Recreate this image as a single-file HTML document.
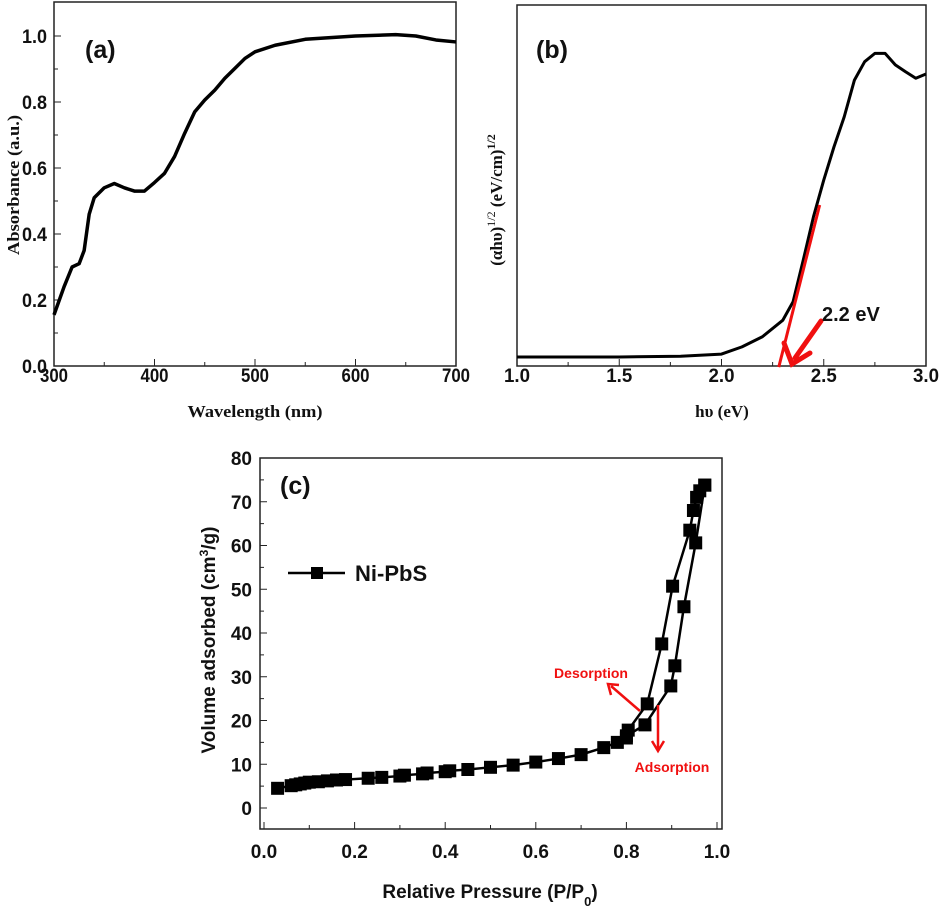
<!DOCTYPE html>
<html><head><meta charset="utf-8">
<style>
html,body{margin:0;padding:0;background:#fff;}
svg{display:block;}
.tk{font-family:"Liberation Sans",sans-serif;font-weight:bold;font-size:19px;fill:#111;}
.tkc{font-family:"Liberation Sans",sans-serif;font-weight:bold;font-size:19px;fill:#111;}
.ser{font-family:"Liberation Serif",serif;font-weight:bold;font-size:17px;fill:#111;}
.pl{font-family:"Liberation Sans",sans-serif;font-weight:bold;font-size:25px;fill:#111;}
</style></head><body>
<svg id="fig" width="941" height="908" viewBox="0 0 941 908" xmlns="http://www.w3.org/2000/svg">
<g id="ga"></g>
<g id="gb"></g>
<g id="gc"></g>
</svg>
<script>
// Panel (a) data
const aWavelength=[300,310,318,325,330,335,340,350,360,370,380,390,400,410,420,430,440,450,460,470,480,490,500,520,550,600,640,660,680,700];
const aAbsorbance=[0.155,0.24,0.30,0.31,0.35,0.46,0.51,0.54,0.553,0.54,0.53,0.53,0.556,0.584,0.635,0.705,0.77,0.806,0.836,0.872,0.902,0.932,0.952,0.972,0.99,1.0,1.004,1.0,0.988,0.982];
const aXTicks=[300,400,500,600,700];
const aYTicks=[0.0,0.2,0.4,0.6,0.8,1.0];
// Panel (b) data
const bEnergy=[1.0,1.5,1.8,2.0,2.1,2.2,2.3,2.35,2.4,2.45,2.5,2.55,2.6,2.65,2.7,2.75,2.8,2.85,2.9,2.95,3.0];
const bSignal=[0.025,0.025,0.027,0.033,0.053,0.081,0.127,0.178,0.294,0.414,0.515,0.607,0.69,0.792,0.843,0.866,0.866,0.834,0.815,0.797,0.809];
const bXTicks=[1.0,1.5,2.0,2.5,3.0];
const bFitX=[2.28,2.48];
const bFitY=[-0.003,0.446];
// Panel (c) data
const cAdsP=[0.03,0.06,0.07,0.08,0.09,0.10,0.12,0.14,0.16,0.18,0.23,0.26,0.30,0.31,0.35,0.36,0.40,0.41,0.45,0.50,0.55,0.60,0.65,0.70,0.75,0.78,0.80,0.841,0.898,0.907,0.927,0.953,0.973];
const cAdsV=[4.5,5.1,5.3,5.5,5.7,5.9,6.0,6.2,6.4,6.5,6.8,7.0,7.3,7.5,7.8,8.0,8.3,8.5,8.8,9.3,9.8,10.5,11.3,12.2,13.8,15.0,16.5,19.0,27.9,32.5,46.0,60.6,73.8];
const cDesP=[0.973,0.962,0.955,0.948,0.94,0.902,0.878,0.846,0.804,0.80];
const cDesV=[73.8,72.5,71.0,68.0,63.5,50.7,37.5,23.8,17.8,16.0];
const cXTicks=[0.0,0.2,0.4,0.6,0.8,1.0];
const cYTicks=[0,10,20,30,40,50,60,70,80];

const NS="http://www.w3.org/2000/svg";
function mk(parent,tag,attrs,text){const e=document.createElementNS(NS,tag);for(const k in attrs)e.setAttribute(k,attrs[k]);if(text!==undefined)e.textContent=text;parent.appendChild(e);return e;}
function lin(d0,d1,r0,r1){return v=>r0+(v-d0)*(r1-r0)/(d1-d0);}

// ---------- Panel A ----------
(function(){
const g=document.getElementById('ga');
const L=54,R=456,T=2,B=366;
const x=lin(300,700,L,R), y=lin(0,1,B,36);
let e=mk(g,'rect',{x:L,y:T,width:R-L,height:B-T,fill:'none',stroke:'#222','stroke-width':1.5});

for(let v=300;v<=700;v+=50){mk(g,'line',{x1:x(v),x2:x(v),y1:B,y2:B-(v%100?4:7),stroke:'#222','stroke-width':1});}
for(let v=0;v<=1.05;v+=0.1){mk(g,'line',{x1:L,x2:L+(Math.round(v*10)%2?4:7),y1:y(v),y2:y(v),stroke:'#222','stroke-width':1});}
aXTicks.forEach(v=>{const t=mk(g,'text',{x:x(v),y:382,'text-anchor':'middle',class:'tk',textLength:28,lengthAdjust:'spacingAndGlyphs'},String(v));
});
aYTicks.forEach(v=>{const t=mk(g,'text',{x:47,y:y(v)+7,'text-anchor':'end',class:'tk',textLength:25,lengthAdjust:'spacingAndGlyphs'},v.toFixed(1));
});
const p=mk(g,'path',{d:aWavelength.map((v,i)=>(i?'L':'M')+x(v)+','+y(aAbsorbance[i])).join(''),fill:'none',stroke:'#000','stroke-width':3.5,'stroke-linejoin':'round'});

let t=mk(g,'text',{x:255,y:417,'text-anchor':'middle',class:'ser',textLength:135,lengthAdjust:'spacingAndGlyphs'},'Wavelength (nm)');

t=mk(g,'text',{x:0,y:0,'text-anchor':'middle',class:'ser',transform:'translate(19,185) rotate(-90)',textLength:140,lengthAdjust:'spacingAndGlyphs'},'Absorbance (a.u.)');

t=mk(g,'text',{x:85,y:58,class:'pl'},'(a)');

})();

// ---------- Panel B ----------
(function(){
const g=document.getElementById('gb');
const L=517,R=926,T=5,B=366;
const x=lin(1,3,L,R), y=lin(0,1,B,5);
let e=mk(g,'rect',{x:L,y:T,width:R-L,height:B-T,fill:'none',stroke:'#222','stroke-width':1.5});

for(let v=1;v<=3.001;v+=0.25){mk(g,'line',{x1:x(v),x2:x(v),y1:B,y2:B-(Math.abs(v*2-Math.round(v*2))<0.01?7:4),stroke:'#222','stroke-width':1});}
bXTicks.forEach(v=>{const t=mk(g,'text',{x:x(v),y:382,'text-anchor':'middle',class:'tk',textLength:26,lengthAdjust:'spacingAndGlyphs'},v.toFixed(1));
});
const p=mk(g,'path',{d:bEnergy.map((v,i)=>(i?'L':'M')+x(v)+','+y(bSignal[i])).join(''),fill:'none',stroke:'#000','stroke-width':3,'stroke-linejoin':'round'});

const f=mk(g,'line',{x1:x(bFitX[0]),y1:y(bFitY[0]),x2:x(bFitX[1]),y2:y(bFitY[1]),stroke:'#f01010','stroke-width':3});

const a=mk(g,'path',{d:'M821,321 L795,358 M784,343 L792,364 L810,353',fill:'none',stroke:'#f01010','stroke-width':5,'stroke-linecap':'round'});

let t=mk(g,'text',{x:822,y:321,style:'font-family:"Liberation Sans",sans-serif;font-weight:bold;font-size:20px;fill:#111'},'2.2 eV');

t=mk(g,'text',{x:722,y:417,'text-anchor':'middle',class:'ser'},'hυ (eV)');

t=mk(g,'text',{x:0,y:0,'text-anchor':'middle',class:'ser',transform:'translate(502,200) rotate(-90)'});
t.innerHTML='(αhυ)<tspan baseline-shift="super" font-size="12" font-weight="normal">1/2</tspan> (eV/cm)<tspan baseline-shift="super" font-size="12">1/2</tspan>';

t=mk(g,'text',{x:536,y:58,class:'pl'},'(b)');

})();

// ---------- Panel C ----------
(function(){
const g=document.getElementById('gc');
const L=260,R=722,T=458,B=829;
const x=lin(0,1,264,717), y=lin(0,80,808,458);
let e=mk(g,'rect',{x:L,y:T,width:R-L,height:B-T,fill:'none',stroke:'#222','stroke-width':1.5});

for(let v=0;v<=1.001;v+=0.1){mk(g,'line',{x1:x(v),x2:x(v),y1:B,y2:B-(Math.round(v*10)%2?4:7),stroke:'#222','stroke-width':1});}
for(let v=0;v<=80;v+=5){mk(g,'line',{x1:L,x2:L+(v%10?4:7),y1:y(v),y2:y(v),stroke:'#222','stroke-width':1});}
cXTicks.forEach(v=>{const t=mk(g,'text',{x:x(v),y:858,'text-anchor':'middle',class:'tkc'},v.toFixed(1));
});
cYTicks.forEach(v=>{const t=mk(g,'text',{x:252,y:y(v)+7,'text-anchor':'end',class:'tkc'},String(v));
});
const ads=mk(g,'path',{d:cAdsP.map((v,i)=>(i?'L':'M')+x(v)+','+y(cAdsV[i])).join(''),fill:'none',stroke:'#000','stroke-width':2.5});

const des=mk(g,'path',{d:cDesP.map((v,i)=>(i?'L':'M')+x(v)+','+y(cDesV[i])).join(''),fill:'none',stroke:'#000','stroke-width':2.5});

cAdsP.forEach((v,i)=>{const r=mk(g,'rect',{x:x(v)-6.5,y:y(cAdsV[i])-6.5,width:13,height:13,fill:'#000'});
});
cDesP.forEach((v,i)=>{const r=mk(g,'rect',{x:x(v)-6.5,y:y(cDesV[i])-6.5,width:13,height:13,fill:'#000'});
});
const lg=mk(g,'g',{});

mk(lg,'line',{x1:288,x2:345,y1:573,y2:573,stroke:'#000','stroke-width':2.5});
mk(lg,'rect',{x:311,y:567,width:12,height:12,fill:'#000'});
mk(lg,'text',{x:355,y:581,style:'font-family:"Liberation Sans",sans-serif;font-weight:bold;font-size:22px;fill:#111'},'Ni-PbS');
const ann='font-family:"Liberation Sans",sans-serif;font-weight:bold;font-size:14px;fill:#f01010';
let t=mk(g,'text',{x:591,y:678,'text-anchor':'middle',style:ann},'Desorption');

t=mk(g,'text',{x:672,y:772,'text-anchor':'middle',style:ann},'Adsorption');

let a=mk(g,'path',{d:'M640,711 L611,686 M611,695 L608,684 L619,685',fill:'none',stroke:'#f01010','stroke-width':2.5});

a=mk(g,'path',{d:'M658,705 L658,750 M652,741 L658,751 L664,741',fill:'none',stroke:'#f01010','stroke-width':2.5});

t=mk(g,'text',{x:490,y:898,'text-anchor':'middle',style:'font-family:"Liberation Sans",sans-serif;font-weight:bold;font-size:19px;fill:#111'});
t.innerHTML='Relative Pressure (P/P<tspan baseline-shift="sub" font-size="13">0</tspan>)';

t=mk(g,'text',{x:0,y:0,'text-anchor':'middle',transform:'translate(215,640) rotate(-90)',style:'font-family:"Liberation Sans",sans-serif;font-weight:bold;font-size:19px;fill:#111'});
t.innerHTML='Volume adsorbed (cm<tspan baseline-shift="super" font-size="12">3</tspan>/g)';

t=mk(g,'text',{x:280,y:494,class:'pl'},'(c)');

})();
</script>
</body></html>
